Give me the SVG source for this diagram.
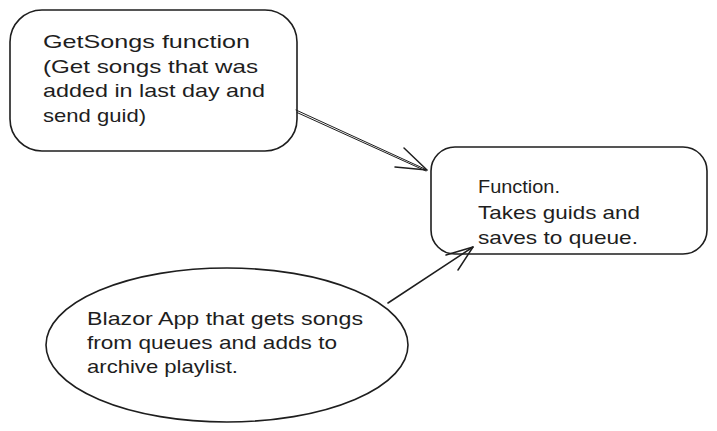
<svg xmlns="http://www.w3.org/2000/svg" width="717" height="431" viewBox="0 0 717 431">
<style>
.shape{fill:none;stroke:#1e1e1e;stroke-width:1.6;stroke-linecap:round;stroke-linejoin:round}
.conn{fill:none;stroke:#1e1e1e;stroke-width:1.5;stroke-linecap:round;stroke-linejoin:round}
.thin{stroke-width:1}
.t{font-family:"Liberation Sans",Arial,sans-serif;font-size:19px;fill:#1e1e1e}
</style>
<rect width="717" height="431" fill="#ffffff"/>
<g id="connectors">
<path class="conn thin" d="M296 110 L427 170"/>
<path class="conn thin" d="M297 112.5 L426 171"/>
<path class="conn" d="M404 148 L427 170 L395 167"/>
<path class="conn" d="M388 303 L473 247"/>
<path class="conn" d="M446 255 L473 247 L458 270"/>
</g>
<g id="node-getsongs">
<rect class="shape" x="10" y="10" width="287" height="141" rx="32" ry="32"/>
<text class="t" x="43" y="48" textLength="207" lengthAdjust="spacingAndGlyphs">GetSongs function</text>
<text class="t" x="43" y="73" textLength="215" lengthAdjust="spacingAndGlyphs">(Get songs that was</text>
<text class="t" x="43" y="97" textLength="222" lengthAdjust="spacingAndGlyphs">added in last day and</text>
<text class="t" x="43" y="122" textLength="103" lengthAdjust="spacingAndGlyphs">send guid)</text>
</g>
<g id="node-function">
<rect class="shape" x="431" y="147" width="276" height="107" rx="24" ry="24"/>
<text class="t" x="478" y="193" textLength="82" lengthAdjust="spacingAndGlyphs">Function.</text>
<text class="t" x="478" y="219" textLength="162" lengthAdjust="spacingAndGlyphs">Takes guids and</text>
<text class="t" x="478" y="244" textLength="160" lengthAdjust="spacingAndGlyphs">saves to queue.</text>
</g>
<g id="node-blazor">
<ellipse class="shape" cx="227" cy="345" rx="181" ry="77"/>
<text class="t" x="87" y="325" textLength="276" lengthAdjust="spacingAndGlyphs">Blazor App that gets songs</text>
<text class="t" x="87" y="349" textLength="250" lengthAdjust="spacingAndGlyphs">from queues and adds to</text>
<text class="t" x="87" y="373" textLength="151" lengthAdjust="spacingAndGlyphs">archive playlist.</text>
</g>
</svg>
